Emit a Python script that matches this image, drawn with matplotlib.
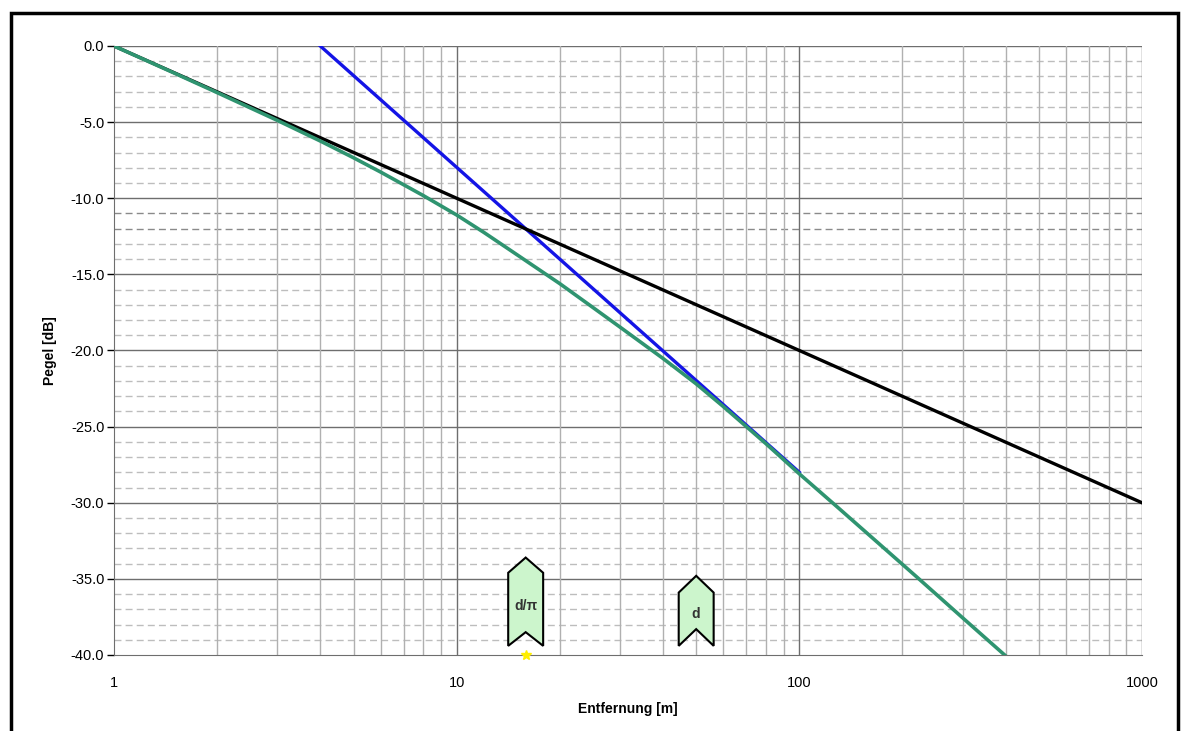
import matplotlib
matplotlib.use('Agg')
import matplotlib.pyplot as plt
from matplotlib.patches import Polygon, Rectangle
import numpy as np

# level curves
x_direct = [1, 1000]
y_direct = [0.0, -30.0]

x_diffuse = [4, 100]
y_diffuse = [0.0, -28.0]

x_total = [1, 1.5, 2, 3, 4, 5, 6, 8, 10, 12, 15, 20, 25, 30, 40, 50, 60,
           80, 100, 130, 170, 220, 300, 420]
y_total = [0.0, -1.78, -3.06, -4.89, -6.24, -7.34, -8.28, -9.83, -11.1,
           -12.24, -13.71, -15.61, -17.18, -18.47, -20.52, -22.19, -23.68,
           -26.13, -28.1, -30.34, -32.65, -34.87, -37.57, -40.48]

# distance markers
marker_x = [15.9, 50]
marker_labels = ['d/\u03c0', 'd']
marker_top = [-33.6, -34.8]
marker_shoulder = [-34.6, -35.9]
marker_notch = [-38.5, -38.3]
marker_bottom = [-39.4, -39.4]

y_ticks = [0, -5, -10, -15, -20, -25, -30, -35, -40]
x_ticks = [1, 10, 100, 1000]

plt.rcParams['font.family'] = ['Liberation Sans', 'DejaVu Sans']

fig = plt.figure(figsize=(11.83, 7.31), dpi=100)
ax = fig.add_axes([114 / 1183, 1 - 655 / 731, 1028 / 1183, 609 / 731])

ax.set_xscale('log')
ax.set_xlim(1, 1000)
ax.set_ylim(-40, 0)

# grid
for v in np.arange(0, -40, -1):
    if v % 5 == 0:
        ax.axhline(v, color='#6e6e6e', lw=1.0, zorder=1)
    else:
        c = '#8a8a8a' if v in (-11, -12) else '#bdbdbd'
        ax.axhline(v, color=c, lw=1.0, ls=(0, (5, 3)), zorder=1)
for dec in [1, 10, 100]:
    for m in range(2, 10):
        ax.axvline(dec * m, color='#b0b0b0', lw=1.0, zorder=1)
for dec in [10, 100, 1000]:
    ax.axvline(dec, color='#6e6e6e', lw=1.0, zorder=1)

ax.plot(x_diffuse, y_diffuse, color='#1414e6', lw=2.4, zorder=3)
ax.plot(x_direct, y_direct, color='black', lw=2.4, zorder=4)
ax.plot(x_total, y_total, color='#2f9470', lw=2.6, zorder=5,
        solid_joinstyle='round')

# markers: arrow-like shapes in log-x space
half = 0.051
for mx, lab, t, s, n, b in zip(marker_x, marker_labels, marker_top,
                               marker_shoulder, marker_notch, marker_bottom):
    lx = np.log10(mx)
    xl, xr = 10 ** (lx - half), 10 ** (lx + half)
    pts = [(xl, s), (mx, t), (xr, s), (xr, b), (mx, n), (xl, b)]
    ax.add_patch(Polygon(pts, closed=True, facecolor='#ccf5cc',
                         edgecolor='black', lw=1.5, zorder=6))
    ax.text(mx, (s + n) / 2 - 0.2, lab, ha='center', va='center',
            fontsize=10, fontweight='bold', color='#333333', zorder=7)

ax.plot([marker_x[0]], [-40], marker='*', color='#ffee00', ms=7,
        clip_on=False, zorder=7)

ax.set_yticks(y_ticks)
ax.set_yticklabels(['%.1f' % v for v in y_ticks])
ax.set_xticks(x_ticks)
ax.set_xticklabels([str(v) for v in x_ticks])
ax.xaxis.set_minor_locator(matplotlib.ticker.NullLocator())
ax.tick_params(axis='y', direction='out', length=5, width=1, labelsize=10.5,
               colors='black', pad=2)
ax.tick_params(axis='x', length=0, labelsize=10.5, pad=15)

for side in ['top', 'right']:
    ax.spines[side].set_visible(False)
ax.spines['left'].set_color('#6e6e6e')
ax.spines['bottom'].set_color('#6e6e6e')

ax.set_xlabel('Entfernung [m]', fontsize=10, fontweight='bold', labelpad=9)
ax.set_ylabel('Pegel [dB]', fontsize=10, fontweight='bold', labelpad=10)

# outer frame
fig.patches.append(Rectangle((11 / 1183, -0.01), 1167 / 1183, 1 - 13 / 731 + 0.01,
                             transform=fig.transFigure, fill=False,
                             edgecolor='black', lw=2.5))

fig.savefig('out.png', dpi=100)
